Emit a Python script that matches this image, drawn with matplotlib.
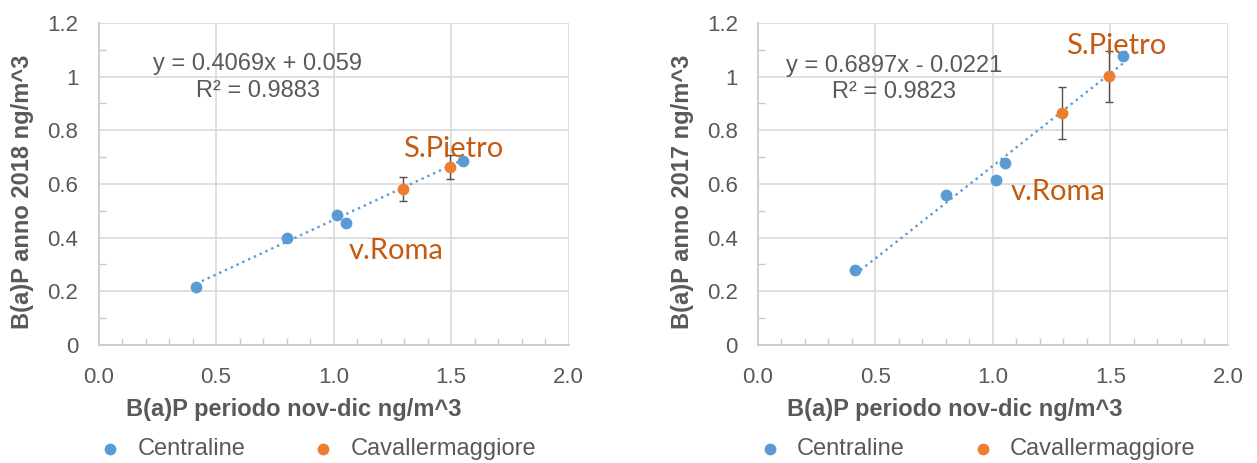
import numpy as np
import matplotlib
matplotlib.use("Agg")
import matplotlib.pyplot as plt
from matplotlib.ticker import MultipleLocator, FormatStrFormatter, FuncFormatter

plt.rcParams['font.family'] = ['Liberation Sans', 'DejaVu Sans']

# --- dati ---
x_centraline = [0.415, 0.80, 1.013, 1.052, 1.552]
y2018_centraline = [0.216, 0.398, 0.485, 0.456, 0.687]
y2017_centraline = [0.279, 0.558, 0.616, 0.678, 1.078]

x_caval = [1.294, 1.494]
y2018_caval = [0.582, 0.662]
y2017_caval = [0.865, 1.001]
err2018_caval = [0.045, 0.045]
err2017_caval = [0.096, 0.096]

# trendline (serie Centraline)
fit2018 = (0.4069, 0.059, 0.9883)
fit2017 = (0.6897, -0.0221, 0.9823)

BLUE = '#5B9BD5'
ORANGE = '#ED7D31'
LABEL_ORANGE = '#C55A11'
GREY = '#595959'
GRID = '#D9D9D9'

fig = plt.figure(figsize=(12.57, 4.63), dpi=100)


def disegna(ax, y_c, y_cav, err_cav, fit, ylabel, eq_txt, eq_pos, sp_pos, vr_pos):
    slope, icpt, r2 = fit
    xs = np.array([min(x_centraline), max(x_centraline)])
    ax.plot(xs, slope * xs + icpt, linestyle=(0, (1, 1.7)), color=BLUE, lw=1.7, zorder=2)
    ax.errorbar(x_caval, y_cav, yerr=err_cav, fmt='none', ecolor='#505050',
                elinewidth=1, capsize=3, capthick=1, zorder=3)
    ax.scatter(x_centraline, y_c, s=72, color=BLUE, zorder=4, label='Centraline', linewidths=0)
    ax.scatter(x_caval, y_cav, s=72, color=ORANGE, zorder=4, label='Cavallermaggiore', linewidths=0)

    ax.set_xlim(0, 2.0)
    ax.set_ylim(0, 1.2)
    ax.xaxis.set_major_locator(MultipleLocator(0.5))
    ax.xaxis.set_minor_locator(MultipleLocator(0.1))
    ax.yaxis.set_major_locator(MultipleLocator(0.2))
    ax.yaxis.set_minor_locator(MultipleLocator(0.1))
    ax.xaxis.set_major_formatter(FormatStrFormatter('%.1f'))
    ax.yaxis.set_major_formatter(FuncFormatter(lambda v, p: f'{v:g}'))
    ax.tick_params(which='major', length=0, labelsize=16, labelcolor=GREY)
    ax.tick_params(axis='y', which='major', pad=14.5)
    ax.tick_params(axis='x', which='major', pad=16)
    ax.tick_params(which='minor', direction='in', length=5, color='#C8C8C8', width=1)
    ax.grid(True, which='major', color=GRID, lw=1.2)
    ax.set_axisbelow(True)
    for s in ['top', 'right']:
        ax.spines[s].set_visible(False)
    for s in ['left', 'bottom']:
        ax.spines[s].set_color('#C8C8C8')
        ax.spines[s].set_linewidth(1.2)

    ax.set_ylabel(ylabel, fontsize=17, fontweight='bold', color=GREY)
    ax.set_xlabel('B(a)P periodo nov-dic ng/m^3', fontsize=17, fontweight='bold', color=GREY)
    ax.yaxis.set_label_coords(-0.137, 0.476)

    ax.text(eq_pos[0], eq_pos[1], eq_txt, fontsize=17, color=GREY, ha='center', va='center')
    ax.text(eq_pos[0], eq_pos[1] - 0.099, f'R² = {r2:.4f}', fontsize=17, color=GREY,
            ha='center', va='center')
    ax.text(sp_pos[0], sp_pos[1], 'S.Pietro', fontsize=21, color=LABEL_ORANGE,
            ha='center', va='center', family=['Lato', 'DejaVu Sans'])
    ax.text(vr_pos[0], vr_pos[1], 'v.Roma', fontsize=21, color=LABEL_ORANGE,
            ha='center', va='center', family=['Lato', 'DejaVu Sans'])

    ax.legend(loc='center left', bbox_to_anchor=(0.0, -0.323), ncol=2, frameon=False,
              fontsize=17, labelcolor=GREY, columnspacing=2.8, handletextpad=0.65,
              handlelength=1.0, borderpad=0, borderaxespad=0, scatterpoints=1)


ax1 = fig.add_axes([0.0784, 0.2549, 0.3739, 0.6955])
disegna(ax1, y2018_centraline, y2018_caval, err2018_caval, fit2018,
        'B(a)P anno 2018 ng/m^3', 'y = 0.4069x + 0.059',
        (0.677, 1.046), (1.511, 0.732), (1.268, 0.352))
ax1.xaxis.set_label_coords(0.416, -0.165)

ax2 = fig.add_axes([0.6030, 0.2549, 0.3739, 0.6955])
disegna(ax2, y2017_centraline, y2017_caval, err2017_caval, fit2017,
        'B(a)P anno 2017 ng/m^3', 'y = 0.6897x - 0.0221',
        (0.578, 1.04), (1.523, 1.115), (1.277, 0.570))
ax2.xaxis.set_label_coords(0.419, -0.165)

fig.savefig('out.png', dpi=100)
